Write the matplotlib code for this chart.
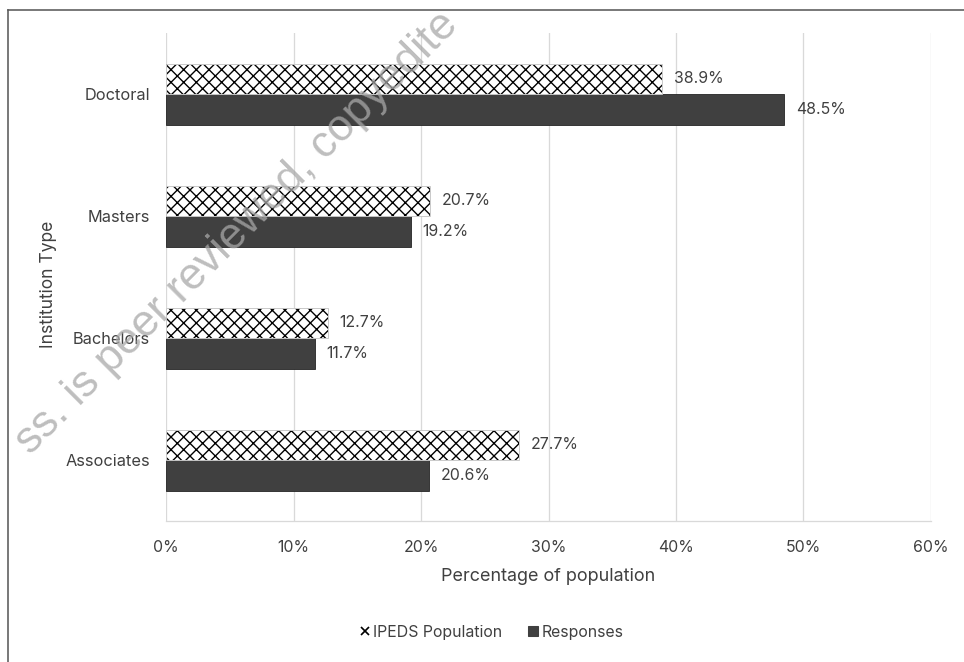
import numpy as np
import matplotlib.pyplot as plt
from matplotlib.lines import Line2D

categories = ["Associates", "Bachelors", "Masters", "Doctoral"]
ipeds_population = [27.7, 12.7, 20.7, 38.9]
responses = [20.6, 11.7, 19.2, 48.5]
x_ticks = [0, 10, 20, 30, 40, 50, 60]

DPI = 76
TXT = "#404040"
plt.rcParams["font.family"] = ["Inter", "DejaVu Sans"]
plt.rcParams["hatch.linewidth"] = 1.3

fig = plt.figure(figsize=(964 / DPI, 662 / DPI), dpi=DPI)
ax = fig.add_axes([166 / 964, 1 - 521 / 662, 765 / 964, 488 / 662])

y = np.arange(len(categories))
h = 0.25
# hatched fill drawn in black, thin grey outline drawn on top
b1 = ax.barh(y + h / 2, ipeds_population, height=h, color="white",
             edgecolor="black", hatch="xx", linewidth=0, zorder=3)
ax.barh(y + h / 2, ipeds_population, height=h, fill=False,
        edgecolor="#c8c8c8", linewidth=0.9, zorder=4)
b2 = ax.barh(y - h / 2, responses, height=h, color="#404040",
             edgecolor="#262626", linewidth=0.8, zorder=3)

for bars in (b1, b2):
    for rect in bars:
        w = rect.get_width()
        ax.annotate(f"{w:.1f}%", (w, rect.get_y() + rect.get_height() / 2),
                    xytext=(11, 0), textcoords="offset points",
                    ha="left", va="center", fontsize=15, color=TXT)

ax.set_xlim(0, 60)
ax.set_ylim(-0.5, 3.5)
ax.set_xticks(x_ticks)
ax.set_xticklabels([f"{t}%" for t in x_ticks], fontsize=15, color=TXT)
ax.set_yticks(y)
ax.set_yticklabels(categories, fontsize=15.5, color=TXT)
ax.tick_params(axis="y", length=0, pad=15)
ax.tick_params(axis="x", length=0, pad=18)
ax.grid(axis="x", color="#d9d9d9", linewidth=1.2, zorder=0)
for side in ("top", "right", "left"):
    ax.spines[side].set_visible(False)
ax.spines["bottom"].set_color("#d9d9d9")
ax.spines["bottom"].set_linewidth(1.2)

ax.set_xlabel("Percentage of population", fontsize=17, color=TXT, labelpad=12)
ax.set_ylabel("Institution Type", fontsize=16.5, color=TXT)
ax.yaxis.set_label_coords(-0.143, 0.484)

ipeds_handle = Line2D([], [], marker="x", linestyle="none", color="black",
                      markersize=7, markeredgewidth=1.6)
resp_handle = Line2D([], [], marker="s", linestyle="none", color="#404040",
                     markersize=9)
fig.legend(handles=[ipeds_handle, resp_handle],
           labels=["IPEDS Population", "Responses"],
           loc="center", bbox_to_anchor=(0.51, 1 - 632 / 662),
           ncol=2, frameon=False, fontsize=15, handlelength=0.6,
           handletextpad=0.25, columnspacing=1.6, labelcolor=TXT)

# outer chart border (runs off the right and bottom edges)
fig.add_artist(Line2D([8 / 964, 1.0], [1 - 10 / 662] * 2, color="#595959",
                      linewidth=1.5, transform=fig.transFigure))
fig.add_artist(Line2D([8 / 964] * 2, [0.0, 1 - 10 / 662], color="#595959",
                      linewidth=1.5, transform=fig.transFigure))

fig.text(237 / 964, 1 - 233 / 662, "ss. is peer reviewed, copyedite",
         rotation=45, ha="center", va="center", fontsize=42,
         family="Liberation Sans", color="#a8a8a8", alpha=0.75, zorder=10)

fig.savefig("out.png", dpi=DPI)
